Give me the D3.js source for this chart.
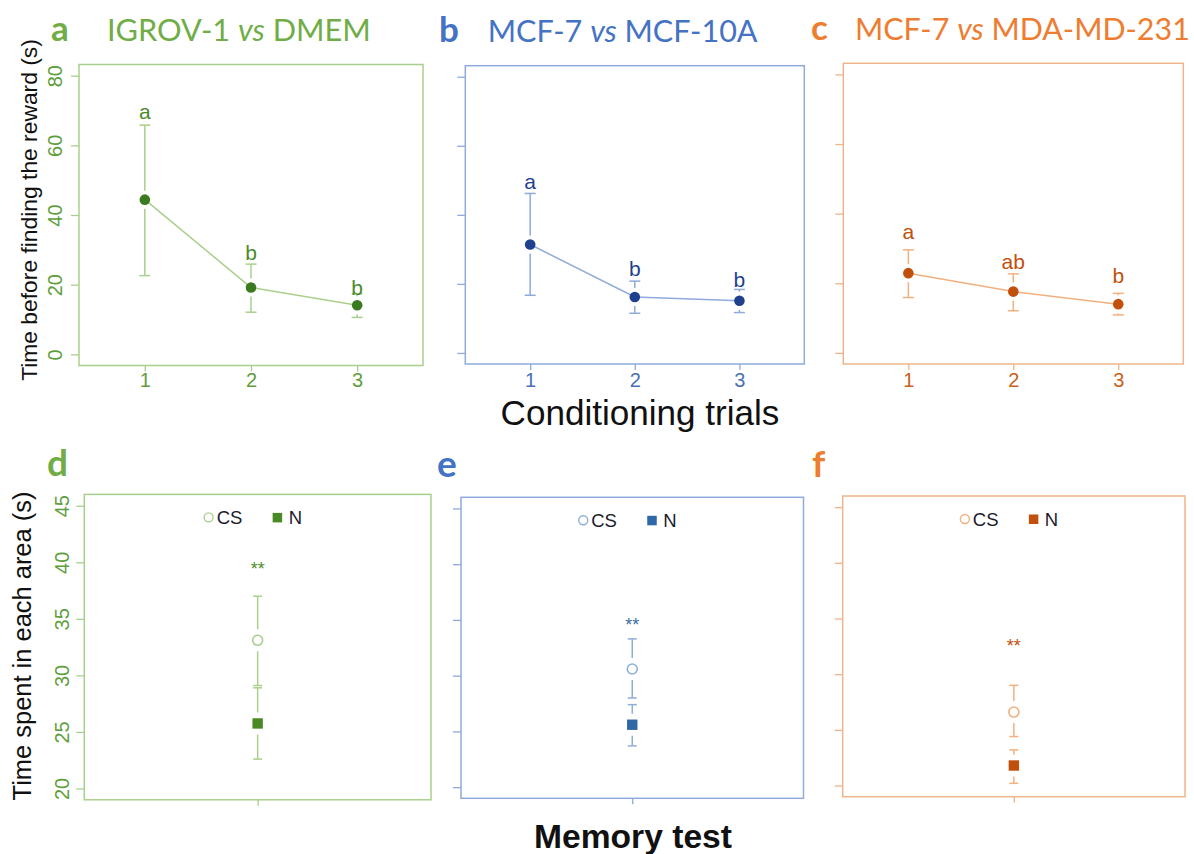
<!DOCTYPE html>
<html><head><meta charset="utf-8">
<script src="https://cdn.jsdelivr.net/npm/d3@7"></script>
<style>body{margin:0;background:#fff} svg{display:block}</style>
</head><body><svg id="c" width="1194" height="854"></svg>
<script>
// ---------- DATA ----------
const trials = [1, 2, 3];
const yTicksTrial = [0, 20, 40, 60, 80];
const yTicksMemory = [20, 25, 30, 35, 40, 45];

const aMean = [44.4, 19.2, 14.1], aLow = [22.6, 12.1, 10.6], aHigh = [65.8, 25.9, 17.4];
const aLetters = ['a', 'b', 'b'], aLetterY = [69.6, 29.3, 19.3];
const bMean = [31.4, 16.2, 15.1], bLow = [16.7, 11.5, 11.7], bHigh = [46.2, 20.8, 18.4];
const bLetters = ['a', 'b', 'b'], bLetterY = [49.6, 24.6, 21.4];
const cMean = [22.9, 17.6, 14.0], cLow = [15.9, 12.1, 10.9], cHigh = [29.6, 22.7, 17.1];
const cLetters = ['a', 'ab', 'b'], cLetterY = [35.0, 26.3, 22.2];

const memGroups = ['CS', 'N'];
const dMean = [33.1, 25.75], dLow = [29.1, 22.6], dHigh = [37.0, 28.9], dStar = 39.8;
const eMean = [30.6, 25.6], eLow = [28.0, 23.7], eHigh = [33.3, 27.4], eStar = 34.9;
const fMean = [26.6, 21.8], fLow = [24.4, 20.2], fHigh = [29.0, 23.2], fStar = 32.9;

const panelLetters = ['a', 'b', 'c', 'd', 'e', 'f'];
const titleLeft = ['IGROV-1', 'MCF-7', 'MCF-7'];
const titleRight = ['DMEM', 'MCF-10A', 'MDA-MD-231'];
const yTitleTrial = 'Time before finding the reward (s)';
const yTitleMemory = 'Time spent in each area (s)';
const xTitleTrial = 'Conditioning trials';
const xTitleMemory = 'Memory test';

// ---------- STYLE ----------
const themes = [
  {title:'#70AD47', box:'#a9cf8c', tick:'#5f9e3c', light:'#a9cf8c', dark:'#3b7a1f', sq:'#4a8a25', star:'#4f8f2c', let:'#4a8a2a'},
  {title:'#4472C4', box:'#8faadc', tick:'#4a70b8', light:'#8faadc', dark:'#1f3f8f', sq:'#2e68a6', star:'#3a6ea8', lightB:'#8fb0d6', let:'#1f3f8f'},
  {title:'#ED7D31', box:'#f0b48a', tick:'#c8621c', light:'#f2b07f', dark:'#c0500c', sq:'#c0500c', star:'#c0500c', let:'#c0500c'}
];
const axisFont = "'Liberation Sans', Arial, sans-serif";
const titleFont = "Lato, 'Open Sans', sans-serif";

const svg = d3.select('#c');

function fit(sel, target) {
  const fs = parseFloat(sel.attr('font-size'));
  const len = sel.node().getComputedTextLength();
  if (len > 0) sel.attr('font-size', fs * target / len);
  return sel;
}

// ---------- TOP PANELS ----------
const topBoxes = [
  {l:79, r:423, t:64.5, b:365.5},
  {l:465.3, r:804.3, t:65.7, b:364},
  {l:843.3, r:1183.3, t:63.3, b:364}
];
const topData = [
  {m:aMean, lo:aLow, hi:aHigh, let:aLetters, ly:aLetterY},
  {m:bMean, lo:bLow, hi:bHigh, let:bLetters, ly:bLetterY},
  {m:cMean, lo:cLow, hi:cHigh, let:cLetters, ly:cLetterY}
];
const titlePos = [
  {lx:51, tx:107, tw:264, by:40.7},
  {lx:439, tx:487.7, tw:270, by:42},
  {lx:811, tx:855, tw:335, by:40}
];

topBoxes.forEach((bx, p) => {
  const th = themes[p], d = topData[p];
  const x = d3.scaleLinear().domain([0.38, 3.62]).range([bx.l, bx.r]);
  const y = d3.scaleLinear().domain([-3.2, 83.2]).range([bx.b, bx.t]);
  const g = svg.append('g');

  // y axis
  const ya = g.append('g').attr('transform', `translate(${bx.l},0)`)
    .call(d3.axisLeft(y).tickValues(yTicksTrial).tickSize(8).tickSizeOuter(0)
      .tickFormat(p === 0 ? d3.format('d') : ''));
  ya.select('.domain').remove();
  ya.selectAll('line').attr('stroke', th.box).attr('stroke-width', 1.3);
  ya.selectAll('text').attr('transform', 'rotate(-90)').attr('x', 0).attr('y', -17).attr('dy', 0)
    .attr('text-anchor', 'middle').attr('fill', th.tick).attr('font-size', 20).attr('font-family', axisFont);

  // x axis
  const xa = g.append('g').attr('transform', `translate(0,${bx.b})`)
    .call(d3.axisBottom(x).tickValues(trials).tickSize(6).tickSizeOuter(0).tickFormat(d3.format('d')));
  xa.select('.domain').remove();
  xa.selectAll('line').attr('stroke', th.box).attr('stroke-width', 1.3);
  xa.selectAll('text').attr('y', 0).attr('dy', 0).attr('transform', `translate(0,${387 - bx.b})`)
    .attr('fill', th.tick).attr('font-size', 20).attr('font-family', axisFont);

  // box
  g.append('rect').attr('x', bx.l).attr('y', bx.t).attr('width', bx.r - bx.l).attr('height', bx.b - bx.t)
    .attr('fill', 'none').attr('stroke', th.box).attr('stroke-width', 1.5);

  // connecting line
  g.append('path').datum(trials).attr('fill', 'none').attr('stroke', th.light).attr('stroke-width', 1.5)
    .attr('d', d3.line().x(t => x(t)).y((t, i) => y(d.m[i])));

  // error bars
  const gap = 9, cap = 5.5;
  trials.forEach((t, i) => {
    const cx = x(t), cy = y(d.m[i]), yh = y(d.hi[i]), yl = y(d.lo[i]);
    const segs = [];
    if (cy - gap > yh) segs.push([cx, yh, cx, cy - gap]);
    if (cy + gap < yl) segs.push([cx, cy + gap, cx, yl]);
    segs.push([cx - cap, yh, cx + cap, yh]);
    segs.push([cx - cap, yl, cx + cap, yl]);
    g.selectAll(null).data(segs).join('line')
      .attr('x1', s => s[0]).attr('y1', s => s[1]).attr('x2', s => s[2]).attr('y2', s => s[3])
      .attr('stroke', th.light).attr('stroke-width', 1.5);
  });

  // points
  g.selectAll(null).data(trials).join('circle')
    .attr('cx', t => x(t)).attr('cy', (t, i) => y(d.m[i])).attr('r', 5.3).attr('fill', th.dark);

  // letters
  g.selectAll(null).data(trials).join('text')
    .attr('x', t => x(t)).attr('y', (t, i) => y(d.ly[i]) + 7.5).attr('text-anchor', 'middle')
    .attr('font-family', axisFont).attr('font-size', 21).attr('fill', th.let)
    .text((t, i) => d.let[i]);

  // panel letter + title
  const tp = titlePos[p];
  svg.append('text').attr('x', tp.lx).attr('y', tp.by).attr('font-family', titleFont).attr('font-weight', 'bold')
    .attr('font-size', 35).attr('fill', th.title).text(panelLetters[p]);
  const tt = svg.append('text').attr('x', tp.tx).attr('y', tp.by).attr('font-family', titleFont)
    .attr('font-size', 30).attr('fill', th.title);
  tt.append('tspan').text(titleLeft[p] + ' ');
  tt.append('tspan').attr('font-style', 'italic').text('vs');
  tt.append('tspan').text(' ' + titleRight[p]);
  fit(tt, tp.tw);
});

// y title top
const yt1 = svg.append('text').attr('transform', 'translate(37,210) rotate(-90)').attr('text-anchor', 'middle')
  .attr('font-family', axisFont).attr('font-size', 20).attr('fill', '#111').text(yTitleTrial);
fit(yt1, 342);
const xt1 = svg.append('text').attr('x', 640).attr('y', 425).attr('text-anchor', 'middle')
  .attr('font-family', axisFont).attr('font-size', 28).attr('fill', '#111').text(xTitleTrial);
fit(xt1, 279);

// ---------- BOTTOM PANELS ----------
const botBoxes = [
  {l:84.3, r:431, t:494.4, b:799.8},
  {l:461, r:803.5, t:497.3, b:798.3},
  {l:842.7, r:1185, t:496, b:796.7}
];
const botData = [
  {m:dMean, lo:dLow, hi:dHigh, star:dStar},
  {m:eMean, lo:eLow, hi:eHigh, star:eStar},
  {m:fMean, lo:fLow, hi:fHigh, star:fStar}
];
const botLetterPos = [{x:47, y:476}, {x:437, y:477}, {x:812, y:477}];

botBoxes.forEach((bx, p) => {
  const th = themes[p], d = botData[p];
  const x = d3.scalePoint().domain(['Memory test']).range([bx.l, bx.r]).padding(0.5);
  const y = d3.scaleLinear().domain([19, 46]).range([bx.b, bx.t]);
  const cx = x('Memory test');
  const g = svg.append('g');
  const light = p === 1 ? th.lightB : th.light;

  const ya = g.append('g').attr('transform', `translate(${bx.l},0)`)
    .call(d3.axisLeft(y).tickValues(yTicksMemory).tickSize(8).tickSizeOuter(0)
      .tickFormat(p === 0 ? d3.format('d') : ''));
  ya.select('.domain').remove();
  ya.selectAll('line').attr('stroke', th.box).attr('stroke-width', 1.3);
  ya.selectAll('text').attr('transform', 'rotate(-90)').attr('x', 0).attr('y', -15.5).attr('dy', 0)
    .attr('text-anchor', 'middle').attr('fill', th.tick).attr('font-size', 20).attr('font-family', axisFont);

  const xa = g.append('g').attr('transform', `translate(0,${bx.b})`)
    .call(d3.axisBottom(x).tickSize(6).tickSizeOuter(0).tickFormat(''));
  xa.select('.domain').remove();
  xa.selectAll('line').attr('stroke', th.box).attr('stroke-width', 1.3);

  g.append('rect').attr('x', bx.l).attr('y', bx.t).attr('width', bx.r - bx.l).attr('height', bx.b - bx.t)
    .attr('fill', 'none').attr('stroke', th.box).attr('stroke-width', 1.5);

  // error bars
  const gap = 11, cap = 4.5;
  memGroups.forEach((grp, i) => {
    const cy = y(d.m[i]), yh = y(d.hi[i]), yl = y(d.lo[i]);
    const segs = [];
    if (cy - gap > yh) segs.push([cx, yh, cx, cy - gap]);
    if (cy + gap < yl) segs.push([cx, cy + gap, cx, yl]);
    segs.push([cx - cap, yh, cx + cap, yh]);
    segs.push([cx - cap, yl, cx + cap, yl]);
    g.selectAll(null).data(segs).join('line')
      .attr('x1', s => s[0]).attr('y1', s => s[1]).attr('x2', s => s[2]).attr('y2', s => s[3])
      .attr('stroke', light).attr('stroke-width', 1.5);
  });

  // CS circle
  g.append('circle').attr('cx', cx).attr('cy', y(d.m[0])).attr('r', 5)
    .attr('fill', '#fff').attr('stroke', light).attr('stroke-width', 1.6);
  // N square
  g.append('rect').attr('x', cx - 5.2).attr('y', y(d.m[1]) - 5.2).attr('width', 10.4).attr('height', 10.4).attr('fill', th.sq);

  // stars
  g.append('text').attr('x', cx).attr('y', y(d.star) + 10).attr('text-anchor', 'middle')
    .attr('font-family', axisFont).attr('font-size', 18).attr('fill', th.star).text('**');

  // legend
  const ly = bx.t + 23;
  g.append('circle').attr('cx', cx - 49).attr('cy', ly).attr('r', 4.5)
    .attr('fill', '#fff').attr('stroke', light).attr('stroke-width', 1.4);
  g.append('text').attr('x', cx - 41).attr('y', ly + 7).attr('font-family', axisFont).attr('font-size', 18.5)
    .attr('fill', '#1b1b2b').text(memGroups[0]);
  g.append('rect').attr('x', cx + 15).attr('y', ly - 4.5).attr('width', 9.5).attr('height', 9.5).attr('fill', th.sq);
  g.append('text').attr('x', cx + 31).attr('y', ly + 7).attr('font-family', axisFont).attr('font-size', 18.5)
    .attr('fill', '#1b1b2b').text(memGroups[1]);

  svg.append('text').attr('x', botLetterPos[p].x).attr('y', botLetterPos[p].y).attr('font-family', titleFont)
    .attr('font-weight', 'bold').attr('font-size', 37).attr('fill', th.title).text(panelLetters[p + 3]);
});

const yt2 = svg.append('text').attr('transform', 'translate(31,646) rotate(-90)').attr('text-anchor', 'middle')
  .attr('font-family', axisFont).attr('font-size', 20).attr('fill', '#111').text(yTitleMemory);
fit(yt2, 309);
const xt2 = svg.append('text').attr('x', 633).attr('y', 848).attr('text-anchor', 'middle')
  .attr('font-family', axisFont).attr('font-weight', 'bold').attr('font-size', 29).attr('fill', '#111').text(xTitleMemory);
fit(xt2, 198);
</script>
</body></html>
